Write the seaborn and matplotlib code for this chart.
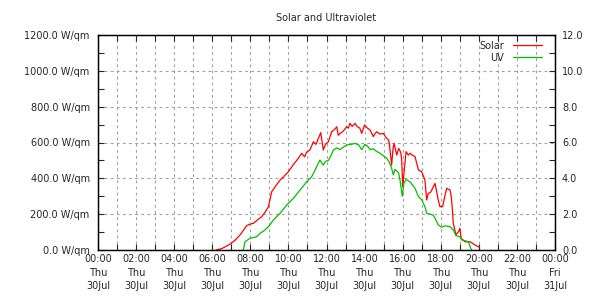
import matplotlib
matplotlib.use("Agg")
import matplotlib.pyplot as plt
import seaborn as sns
from matplotlib.lines import Line2D
from matplotlib.ticker import MultipleLocator

# Solar radiation (W/qm) by hour of day
solar_hours = [6.2, 6.5, 6.93, 7.2, 7.46, 7.81, 8.0, 8.16, 8.4, 8.6, 8.8, 8.95,
               9.12, 9.35, 9.56, 9.8, 10.0, 10.25, 10.52, 10.7, 10.85, 10.95,
               11.13, 11.31, 11.45, 11.57, 11.7, 11.83, 11.95, 12.1, 12.27, 12.4,
               12.54, 12.62, 12.7, 12.85, 13.06, 13.15, 13.23, 13.35, 13.5, 13.6,
               13.75, 13.85, 14.0, 14.15, 14.29, 14.46, 14.55, 14.64, 14.81, 14.98,
               15.15, 15.25, 15.3, 15.42, 15.5, 15.55, 15.69, 15.79, 15.9, 15.95,
               16.0, 16.07, 16.18, 16.3, 16.39, 16.5, 16.65, 16.83, 17.0, 17.17,
               17.26, 17.34, 17.45, 17.53, 17.7, 17.87, 17.96, 18.1, 18.23, 18.31,
               18.49, 18.55, 18.6, 18.66, 18.8, 18.93, 19.01, 19.07, 19.27, 19.54,
               19.8, 20.03]
solar_values = [0, 8, 32, 55, 84, 136, 145, 149, 170, 186, 215, 242,
                325, 360, 390, 415, 437, 475, 512, 540, 520, 545,
                558, 604, 590, 623, 655, 558, 590, 604, 660, 670,
                688, 640, 650, 660, 688, 680, 707, 690, 707, 690,
                680, 651, 698, 680, 670, 633, 650, 660, 647, 651,
                625, 614, 595, 474, 570, 595, 530, 567, 545, 502,
                353, 430, 549, 530, 540, 530, 521, 446, 437, 390,
                279, 316, 320, 335, 372, 279, 242, 242, 307, 344,
                335, 300, 242, 149, 84, 102, 121, 65, 46, 46,
                28, 15]

# UV index by hour of day
uv_hours = [7.63, 7.72, 7.98, 8.33, 8.51, 8.75, 8.95, 9.21, 9.56, 9.91, 10.26,
            10.61, 10.96, 11.22, 11.4, 11.55, 11.66, 11.75, 11.83, 11.95, 12.1,
            12.25, 12.36, 12.54, 12.7, 12.9, 13.06, 13.3, 13.5, 13.7, 13.85,
            14.02, 14.15, 14.29, 14.46, 14.64, 14.81, 15.0, 15.16, 15.3, 15.42,
            15.51, 15.6, 15.79, 15.86, 15.98, 16.07, 16.18, 16.39, 16.65, 16.83,
            17.0, 17.17, 17.26, 17.6, 17.7, 17.87, 18.04, 18.23, 18.49, 18.66,
            18.8, 19.01, 19.1, 19.27, 19.45, 19.57, 19.62]
uv_values = [0, 0.46, 0.65, 0.74, 0.93, 1.1, 1.3, 1.67, 2.05, 2.51, 2.88,
             3.35, 3.81, 4.09, 4.46, 4.8, 5.02, 4.85, 4.74, 4.95, 5.0,
             5.3, 5.58, 5.7, 5.6, 5.75, 5.86, 5.9, 5.95, 5.85, 5.6,
             5.9, 5.8, 5.6, 5.65, 5.5, 5.4, 5.25, 5.12, 4.9, 4.56,
             4.19, 4.5, 4.3, 3.9, 3.0, 3.75, 3.94, 3.8, 3.44, 2.98,
             2.8, 2.42, 2.05, 1.95, 1.77, 1.4, 1.27, 1.35, 1.3, 1.12,
             0.8, 0.74, 0.56, 0.52, 0.46, 0.1, 0.0]

x_ticks = [0, 2, 4, 6, 8, 10, 12, 14, 16, 18, 20, 22, 24]
x_tick_labels = ["00:00\nThu\n30Jul", "02:00\nThu\n30Jul", "04:00\nThu\n30Jul",
                 "06:00\nThu\n30Jul", "08:00\nThu\n30Jul", "10:00\nThu\n30Jul",
                 "12:00\nThu\n30Jul", "14:00\nThu\n30Jul", "16:00\nThu\n30Jul",
                 "18:00\nThu\n30Jul", "20:00\nThu\n30Jul", "22:00\nThu\n30Jul",
                 "00:00\nFri\n31Jul"]

sns.set_style("white")
plt.rcParams["font.family"] = ["DejaVu Sans"]
plt.rcParams["font.size"] = 7

fig = plt.figure(figsize=(6.1, 3.0), dpi=100)
ax = fig.add_axes([0.1607, 0.1667, 0.7491, 0.7166])
ax2 = ax.twinx()

solar_color = "#ff0000"
uv_color = "#00c000"

sns.lineplot(x=solar_hours, y=solar_values, ax=ax, color=solar_color,
             linewidth=0.9, sort=False, estimator=None)
sns.lineplot(x=uv_hours, y=uv_values, ax=ax2, color=uv_color,
             linewidth=0.9, sort=False, estimator=None)

ax.set_xlim(0, 24)
ax.set_ylim(0, 1200)
ax2.set_ylim(0, 12)

ax.set_xticks(x_ticks)
ax.set_xticklabels(x_tick_labels, linespacing=1.45)
ax.xaxis.set_minor_locator(MultipleLocator(1))
ax.yaxis.set_major_locator(MultipleLocator(200))
ax.yaxis.set_minor_locator(MultipleLocator(100))
ax.set_yticklabels([f"{v:.1f} W/qm" for v in ax.get_yticks()])
ax2.yaxis.set_major_locator(MultipleLocator(2))
ax2.yaxis.set_minor_locator(MultipleLocator(1))
ax2.set_yticklabels([f"{v:.1f}" for v in ax2.get_yticks()])

ax.tick_params(axis="x", which="both", direction="in", top=True, bottom=True,
               length=4, width=0.8, pad=3, labelsize=7)
ax.tick_params(axis="y", which="both", direction="in", left=True, right=False,
               length=4, width=0.8, pad=6, labelsize=7)
ax2.tick_params(axis="y", which="both", direction="in", right=True,
                length=4, width=0.8, pad=5, labelsize=7)

grid_kw = dict(color="#a0a0a0", linestyle=(0, (2.5, 3)), linewidth=0.8)
ax.grid(True, which="both", axis="x", **grid_kw)
ax.grid(True, which="major", axis="y", **grid_kw)
ax.set_axisbelow(True)

for a in (ax, ax2):
    for spine in a.spines.values():
        spine.set_color("black")
        spine.set_linewidth(0.9)
    a.set_xlabel("")
    a.set_ylabel("")

ax.set_title("Solar and Ultraviolet", fontsize=7, pad=10)

handles = [Line2D([], [], color=solar_color, linewidth=0.9),
           Line2D([], [], color=uv_color, linewidth=0.9)]
ax2.legend(handles, ["Solar", "UV"], loc="upper right", frameon=False,
           markerfirst=False, handlelength=3.0, handletextpad=0.9,
           labelspacing=0.2, fontsize=7, borderaxespad=0.2,
           bbox_to_anchor=(0.985, 1.0))

fig.savefig("out.png", dpi=100)
